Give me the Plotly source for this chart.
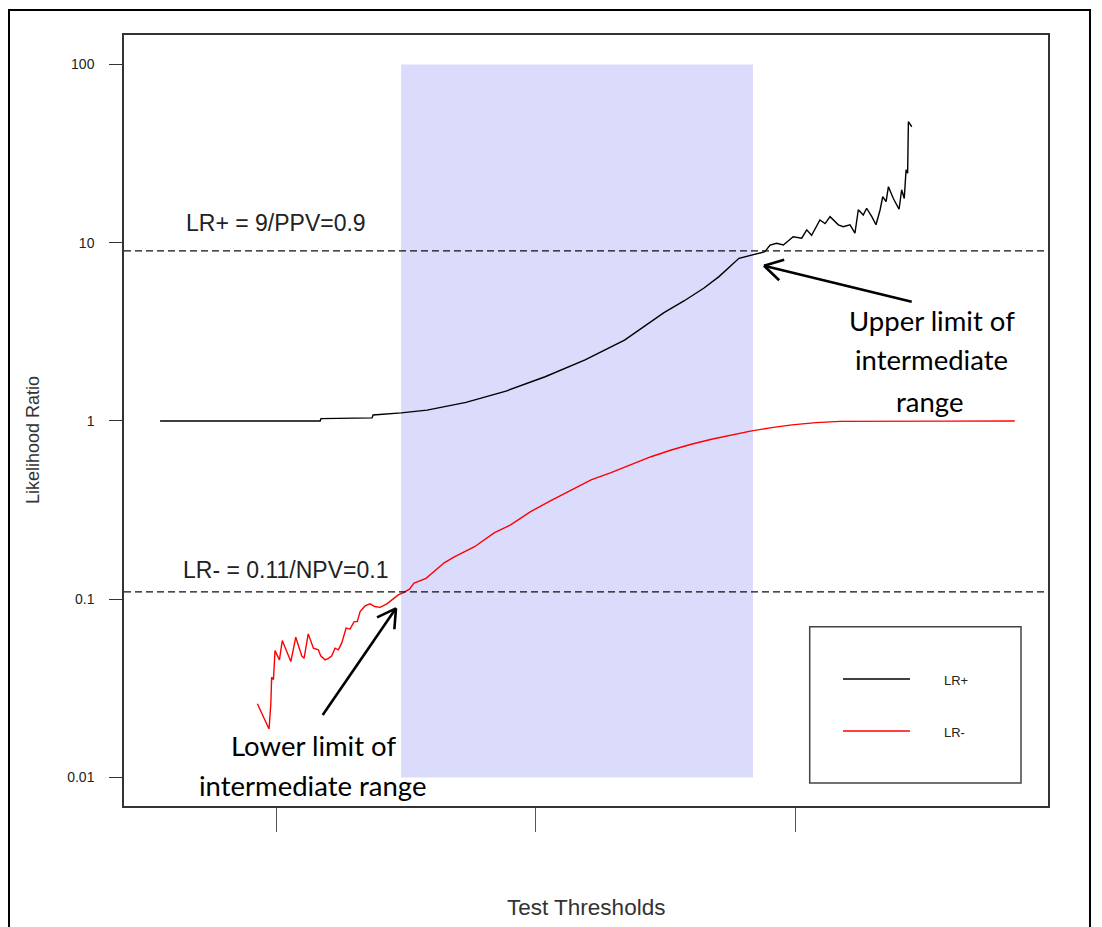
import math
import plotly.graph_objects as go

# ---------------- data ----------------
lr_pos_x = [5.53, 11.70, 11.73, 12.93, 13.70, 13.74, 14.82, 15.82, 17.32, 18.86,
            20.37, 21.91, 23.43, 24.95, 25.72, 26.48, 27.07, 27.84, 28.39, 28.84,
            29.04, 29.29, 29.55, 29.93, 30.26, 30.45, 30.64, 30.96, 31.16, 31.35,
            31.67, 31.86, 32.12, 32.31, 32.44, 32.63, 32.76, 32.96, 33.12, 33.28,
            33.38, 33.51, 33.60, 33.79, 34.01, 34.11, 34.21, 34.28, 34.34, 34.37,
            34.50]
lr_pos_y = [1.0, 1.0, 1.03, 1.04, 1.04, 1.08, 1.11, 1.15, 1.27, 1.47,
            1.77, 2.20, 2.84, 4.05, 4.71, 5.55, 6.45, 8.17, 8.6, 8.9,
            9.7, 9.93, 9.7, 10.8, 10.6, 11.8, 11.0, 13.4, 12.8, 14.0,
            12.6, 12.3, 12.6, 11.3, 15.3, 14.3, 15.6, 14.0, 12.6, 15.3,
            18.1, 17.0, 20.6, 17.7, 15.4, 19.8, 17.7, 25.6, 24.5, 47.7,
            44.7]

lr_neg_x = [9.28, 9.73, 9.80, 9.83, 9.90, 9.96, 10.13, 10.24, 10.44, 10.57,
            10.76, 10.99, 11.08, 11.24, 11.44, 11.63, 11.72, 11.89, 12.02, 12.15,
            12.27, 12.40, 12.53, 12.70, 12.85, 13.01, 13.13, 13.24, 13.43, 13.62,
            13.81, 14.01, 14.27, 14.50, 14.71, 14.91, 15.14, 15.32, 15.78, 16.48,
            16.87, 17.65, 18.42, 19.04, 19.81, 20.59, 21.36, 22.14, 22.91, 23.68,
            24.45, 25.23, 26.00, 26.78, 27.55, 28.33, 29.10, 29.88, 30.81, 31.73,
            35.76, 38.47]
lr_neg_y = [0.0259, 0.0187, 0.0261, 0.0365, 0.0354, 0.0515, 0.0457, 0.0586, 0.0498, 0.0447,
            0.0612, 0.0481, 0.0466, 0.0639, 0.0531, 0.0520, 0.0481, 0.0457, 0.0466, 0.0481,
            0.0531, 0.0520, 0.0567, 0.0688, 0.0680, 0.0749, 0.0749, 0.0852, 0.0917, 0.0942,
            0.0910, 0.0900, 0.0942, 0.1000, 0.1057, 0.1090, 0.1138, 0.123, 0.131, 0.160,
            0.173, 0.197, 0.236, 0.261, 0.310, 0.357, 0.406, 0.467, 0.513, 0.571,
            0.630, 0.687, 0.740, 0.789, 0.835, 0.879, 0.917, 0.950, 0.979, 0.995,
            0.998, 1.0]

x_tick_vals = [10, 20, 30]
y_tick_vals = [0.01, 0.1, 1, 10, 100]
y_tick_text = ["0.01", "0.1", "1", "10", "100"]
ppv_cut = 9          # LR+ = 9 / PPV = 0.9
npv_cut = 0.11       # LR- = 0.11 / NPV = 0.1
shade_x = [14.82, 28.38]
shade_y = [0.01, 100]

# ---------------- layout geometry ----------------
FW, FH = 1102, 927
L, T, W, H = 124, 35, 924, 771


def px(x):
    return (x - L) / W


def py(y):
    return (T + H - y) / H


fig = go.Figure()
fig.add_trace(go.Scatter(x=lr_pos_x, y=lr_pos_y, mode="lines", name="LR+",
                         line=dict(color="black", width=1.4), showlegend=False))
fig.add_trace(go.Scatter(x=lr_neg_x, y=lr_neg_y, mode="lines", name="LR-",
                         line=dict(color="#ff0000", width=1.4), showlegend=False))

shapes = []
# intermediate range shading
shapes.append(dict(type="rect", xref="x", yref="y", x0=shade_x[0], x1=shade_x[1],
                   y0=shade_y[0], y1=shade_y[1], fillcolor="rgb(219,219,252)",
                   line=dict(width=0), layer="below"))
# dashed reference lines
for yv in (ppv_cut, npv_cut):
    shapes.append(dict(type="line", xref="paper", yref="y", x0=0, x1=1, y0=yv, y1=yv,
                       line=dict(color="#111", width=1.3, dash="7px,4px")))


def arrow(tail, tip, length=21, ang=30, width=2.6):
    dx, dy = tail[0] - tip[0], tail[1] - tip[1]
    a = math.atan2(dy, dx)
    out = [dict(type="line", xref="paper", yref="paper", x0=px(tail[0]), y0=py(tail[1]),
                x1=px(tip[0]), y1=py(tip[1]), line=dict(color="black", width=width))]
    for s in (-1, 1):
        b = a + s * math.radians(ang)
        ex, ey = tip[0] + length * math.cos(b), tip[1] + length * math.sin(b)
        out.append(dict(type="line", xref="paper", yref="paper", x0=px(tip[0]), y0=py(tip[1]),
                        x1=px(ex), y1=py(ey), line=dict(color="black", width=width)))
    return out


shapes += arrow((911.7, 301.7), (764, 265.7))
shapes += arrow((322.7, 715), (396, 608.3))

# manual legend
shapes.append(dict(type="rect", xref="paper", yref="paper", x0=px(809.7), x1=px(1021),
                   y0=py(783), y1=py(626.7), line=dict(color="#444", width=1.5),
                   fillcolor="rgba(0,0,0,0)"))
shapes.append(dict(type="line", xref="paper", yref="paper", x0=px(843), x1=px(910),
                   y0=py(679), y1=py(679), line=dict(color="black", width=1.4)))
shapes.append(dict(type="line", xref="paper", yref="paper", x0=px(843), x1=px(910),
                   y0=py(731), y1=py(731), line=dict(color="#ff0000", width=1.4)))

# outer frame of the figure
shapes.append(dict(type="rect", xref="paper", yref="paper", x0=px(9), x1=px(1090),
                   y0=py(960), y1=py(10), line=dict(color="black", width=2),
                   fillcolor="rgba(0,0,0,0)"))

ARIAL = "Liberation Sans, Arial, sans-serif"
CAL = "Lato, Carlito, Calibri, sans-serif"


def ann(text, x, y, size, family=ARIAL, color="#222", xanchor="center", angle=0):
    return dict(text=text, x=px(x), y=py(y), xref="paper", yref="paper",
                showarrow=False, xanchor=xanchor, yanchor="middle", textangle=angle,
                font=dict(family=family, size=size, color=color))


annotations = [
    ann("LR+ = 9/PPV=0.9", 275.5, 223, 23),
    ann("LR- = 0.11/NPV=0.1", 285, 570, 23),
    ann("Upper limit of", 932, 320, 27.5, CAL, "black"),
    ann("intermediate", 931, 360, 27.5, CAL, "black"),
    ann("range", 929, 401, 27.5, CAL, "black"),
    ann("Lower limit of", 313, 745, 27.5, CAL, "black"),
    ann("intermediate range", 312, 785, 27.5, CAL, "black"),
    ann("LR+", 942, 680, 13, xanchor="left"),
    ann("LR-", 942, 732, 13, xanchor="left"),
    ann("Likelihood Ratio", 33, 440, 18, color="#333", angle=-90),
    ann("Test Thresholds", 586, 907, 22.5, color="#333"),
]

fig.update_layout(
    width=FW, height=FH,
    margin=dict(l=L, r=FW - L - W, t=T, b=FH - T - H, pad=0),
    paper_bgcolor="white", plot_bgcolor="white",
    showlegend=False,
    shapes=shapes, annotations=annotations,
    xaxis=dict(range=[4.14, 39.75], showgrid=False, zeroline=False,
               showline=True, mirror=True, linecolor="#333", linewidth=1.5,
               ticks="outside", ticklen=24, tickwidth=1, tickcolor="#555",
               tickvals=x_tick_vals, showticklabels=False),
    yaxis=dict(type="log", range=[-2.16, 2.165], showgrid=False, zeroline=False,
               showline=True, mirror=True, linecolor="#333", linewidth=1.5,
               ticks="outside", ticklen=13, tickwidth=1, tickcolor="#333",
               tickvals=y_tick_vals, ticktext=y_tick_text, ticklabelstandoff=12,
               tickfont=dict(family=ARIAL, size=14, color="#222")),
)

fig.write_html("out.html", config={"displayModeBar": False},
               post_script="document.body.style.margin='0';")
